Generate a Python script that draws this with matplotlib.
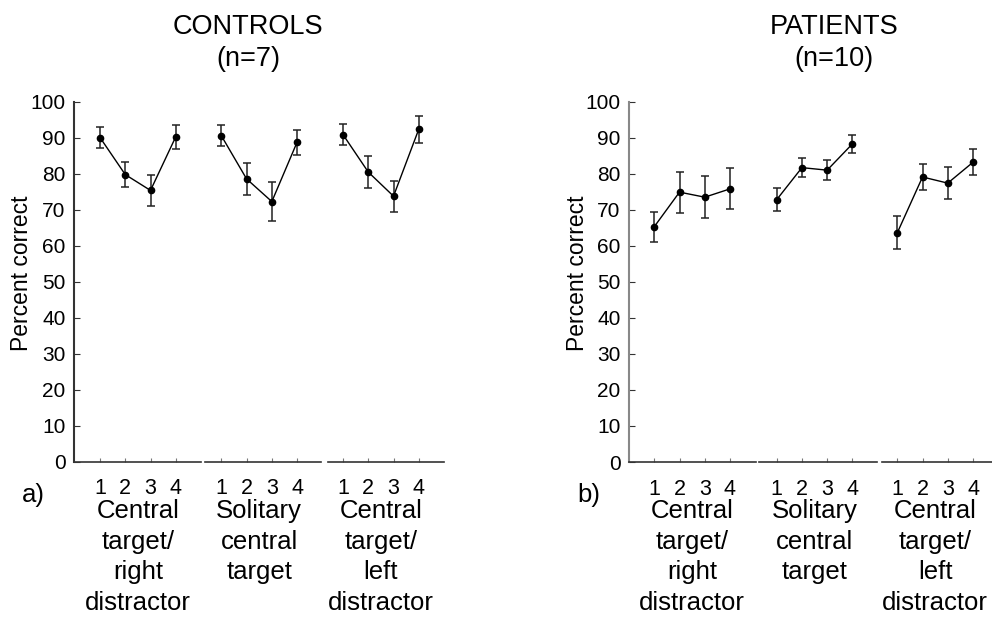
import matplotlib
matplotlib.use("Agg")
import matplotlib.pyplot as plt

plt.rcParams['font.family'] = ['Liberation Sans', 'DejaVu Sans']

# ---- data ----
conditions = [1, 2, 3, 4]
group_labels = ["Central\ntarget/\nright\ndistractor",
                "Solitary\ncentral\ntarget",
                "Central\ntarget/\nleft\ndistractor"]
yticks = [0, 10, 20, 30, 40, 50, 60, 70, 80, 90, 100]

controls_right = [90.0, 79.7, 75.3, 90.2]
controls_right_err = [2.9, 3.5, 4.2, 3.4]
controls_solitary = [90.5, 78.5, 72.2, 88.7]
controls_solitary_err = [2.9, 4.4, 5.4, 3.5]
controls_left = [90.8, 80.4, 73.7, 92.3]
controls_left_err = [3.0, 4.45, 4.3, 3.75]

patients_right = [65.3, 74.9, 73.5, 75.8]
patients_right_err = [4.2, 5.7, 5.9, 5.7]
patients_solitary = [72.8, 81.7, 81.0, 88.3]
patients_solitary_err = [3.2, 2.65, 2.85, 2.4]
patients_left = [63.6, 79.1, 77.4, 83.2]
patients_left_err = [4.6, 3.7, 4.45, 3.55]

W, H = 992, 627
fig = plt.figure(figsize=(W / 100, H / 100), dpi=100)


def px_axes(x0, x1, ytop, ybot):
    return fig.add_axes([x0 / W, 1 - ybot / H, (x1 - x0) / W, (ybot - ytop) / H])


panels = [
    dict(title="CONTROLS\n(n=7)", tx=248, letter="a)", lx=33, ylx=22,
         spine_col="#333333",
         series=[controls_right, controls_solitary, controls_left],
         errs=[controls_right_err, controls_solitary_err, controls_left_err],
         segs=[(74, 200.5, -0.03), (205, 321, 0.353), (328, 444, 0.405)],
         ytop=101.5, ybot=461.5),
    dict(title="PATIENTS\n(n=10)", tx=834, letter="b)", lx=589, ylx=577,
         spine_col="#888888",
         series=[patients_right, patients_solitary, patients_left],
         errs=[patients_right_err, patients_solitary_err, patients_left_err],
         segs=[(629, 755.7, 0.0), (759, 877.3, 0.30), (882.3, 992, 0.407)],
         ytop=101.7, ybot=462.0),
]

unit = 25.25  # pixels per condition step

for p in panels:
    for gi, (x0, x1, xmin) in enumerate(p["segs"]):
        ax = px_axes(x0, x1, p["ytop"], p["ybot"])
        ax.errorbar(conditions, p["series"][gi], yerr=p["errs"][gi],
                    color="black", lw=1.0, marker="o", ms=4.5,
                    elinewidth=1.1, capsize=3, capthick=1.1, ecolor="#222222")
        ax.set_xlim(xmin, xmin + (x1 - x0) / unit)
        ax.set_ylim(0, 100)
        for s in ["top", "right"]:
            ax.spines[s].set_visible(False)
        ax.spines["bottom"].set_color("#333333")
        ax.spines["bottom"].set_linewidth(1.2)
        ax.set_xticks(conditions)
        ax.set_xticklabels([str(c) for c in conditions], fontsize=15.5)
        ax.tick_params(axis="x", direction="in", length=3, width=0.8,
                       color="#777777", pad=12)
        if gi == 0:
            ax.spines["left"].set_color(p["spine_col"])
            ax.spines["left"].set_linewidth(1.5)
            ax.set_yticks(yticks)
            ax.set_yticklabels([str(v) for v in yticks], fontsize=15)
            ax.tick_params(axis="y", direction="in", length=4, width=0.8,
                           color="#333333", pad=6)
        else:
            ax.spines["left"].set_visible(False)
            ax.set_yticks([])
        ax.patch.set_alpha(0)
        cx = (x0 + (1 - xmin) * unit + x0 + (4 - xmin) * unit) / 2
        fig.text(cx / W, 1 - 499 / H, group_labels[gi], ha="center", va="top",
                 fontsize=18.5, linespacing=1.35)
    fig.text(p["tx"] / W, 1 - 43.5 / H, p["title"], ha="center", va="center",
             fontsize=19.5, linespacing=1.3)
    fig.text(p["ylx"] / W, 1 - 273 / H, "Percent correct", rotation=90,
             ha="center", va="center", fontsize=16.5)
    fig.text(p["lx"] / W, 1 - 495 / H, p["letter"], ha="center", va="center",
             fontsize=18.5)

fig.savefig("out.png", dpi=100)
